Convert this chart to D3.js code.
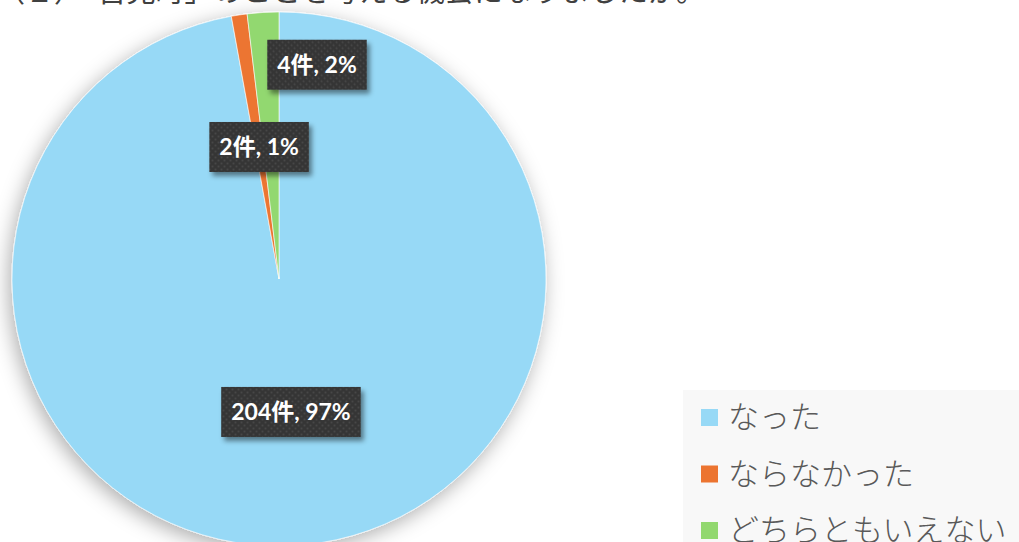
<!DOCTYPE html>
<html>
<head>
<meta charset="utf-8">
<script src="https://cdn.jsdelivr.net/npm/d3@7"></script>
<style>
  body{margin:0;background:#fff;overflow:hidden;}
  svg{display:block;}
</style>
</head>
<body>
<svg id="chart" width="1019" height="542"></svg>
<script>
// data
var title='（２）「吉見町」のことを考える機会になりましたか。';
var categories=['なった','ならなかった','どちらともいえない'];
var counts=[204,2,4];
var percents=[97,1,2];
var colors=['#97d9f6','#ec7430','#92d86f'];

var svg=d3.select('#chart');
var W=1019,H=542;
var cx=279,cy=279,R=267;

var defs=svg.append('defs');
var pieShadow=defs.append('filter').attr('id','pieShadow')
  .attr('x','-20%').attr('y','-20%').attr('width','140%').attr('height','140%');
pieShadow.append('feDropShadow')
  .attr('dx',-3).attr('dy',5).attr('stdDeviation',10)
  .attr('flood-color','#000').attr('flood-opacity',0.32);

var boxShadow=defs.append('filter').attr('id','boxShadow')
  .attr('x','-20%').attr('y','-30%').attr('width','150%').attr('height','170%');
boxShadow.append('feDropShadow')
  .attr('dx',3).attr('dy',4).attr('stdDeviation',2.5)
  .attr('flood-color','#000').attr('flood-opacity',0.45);

var dots=defs.append('pattern').attr('id','dots')
  .attr('width',6).attr('height',6).attr('patternUnits','userSpaceOnUse');
dots.append('rect').attr('width',6).attr('height',6).attr('fill','#353535');
dots.append('circle').attr('cx',1.5).attr('cy',1.5).attr('r',1).attr('fill','#474747');
dots.append('circle').attr('cx',4.5).attr('cy',4.5).attr('r',1).attr('fill','#474747');

// title (cut off at top like the source)
svg.append('text')
  .attr('x',-4).attr('y',2)
  .attr('font-family','"Noto Sans CJK JP", sans-serif')
  .attr('font-size',29)
  .attr('fill','#404040')
  .text(title);

// pie
var pie=d3.pie().sort(null).value(function(d){return d;});
var arcs=pie(counts);
var arc=d3.arc().innerRadius(0).outerRadius(R);
var labelArc=d3.arc().innerRadius(R*0.5).outerRadius(R*0.5);

var g=svg.append('g').attr('transform','translate('+cx+','+cy+')');
g.append('g').attr('filter','url(#pieShadow)')
  .selectAll('path').data(arcs).enter().append('path')
  .attr('d',arc)
  .attr('fill',function(d,i){return colors[i];})
  .attr('stroke','#ffffff').attr('stroke-width',0.6);

// data labels (the small green one was dragged outward, as in the source)
var nudge=[[0,0],[0,0],[46,-81]];
var lab=g.selectAll('.lab').data(arcs).enter().append('g')
  .attr('class','lab')
  .attr('transform',function(d,i){
    var c=labelArc.centroid(d);
    return 'translate('+(c[0]+nudge[i][0])+','+(c[1]+nudge[i][1])+')';
  });
lab.each(function(d,i){
  var s=d3.select(this);
  var txt=s.append('text')
    .attr('text-anchor','middle')
    .attr('dy','0.36em')
    .attr('font-family','Lato, "Noto Sans CJK JP", sans-serif')
    .attr('font-weight','bold')
    .attr('font-size',23)
    .attr('fill','#ffffff')
    .text(counts[i]+'件, '+percents[i]+'%');
  var bb=txt.node().getBBox();
  s.insert('rect','text')
    .attr('x',bb.x-10).attr('y',-25)
    .attr('width',bb.width+20).attr('height',50)
    .attr('fill','url(#dots)')
    .attr('filter','url(#boxShadow)');
});

// legend
var lg=svg.append('g').attr('transform','translate(683,390)');
lg.append('rect').attr('width',W-683).attr('height',H-390).attr('fill','#f8f8f8');
var item=lg.selectAll('.item').data(categories).enter().append('g')
  .attr('transform',function(d,i){return 'translate(18,'+(27+i*56.5)+')';});
item.append('rect').attr('x',0).attr('y',-8).attr('width',17).attr('height',17)
  .attr('fill',function(d,i){return colors[i];});
item.append('text').attr('x',27).attr('dy','0.36em')
  .attr('font-family','"Noto Sans CJK JP", sans-serif')
  .attr('font-weight',300)
  .attr('font-size',31)
  .attr('fill','#595959')
  .text(function(d){return d;});
</script>
</body>
</html>
